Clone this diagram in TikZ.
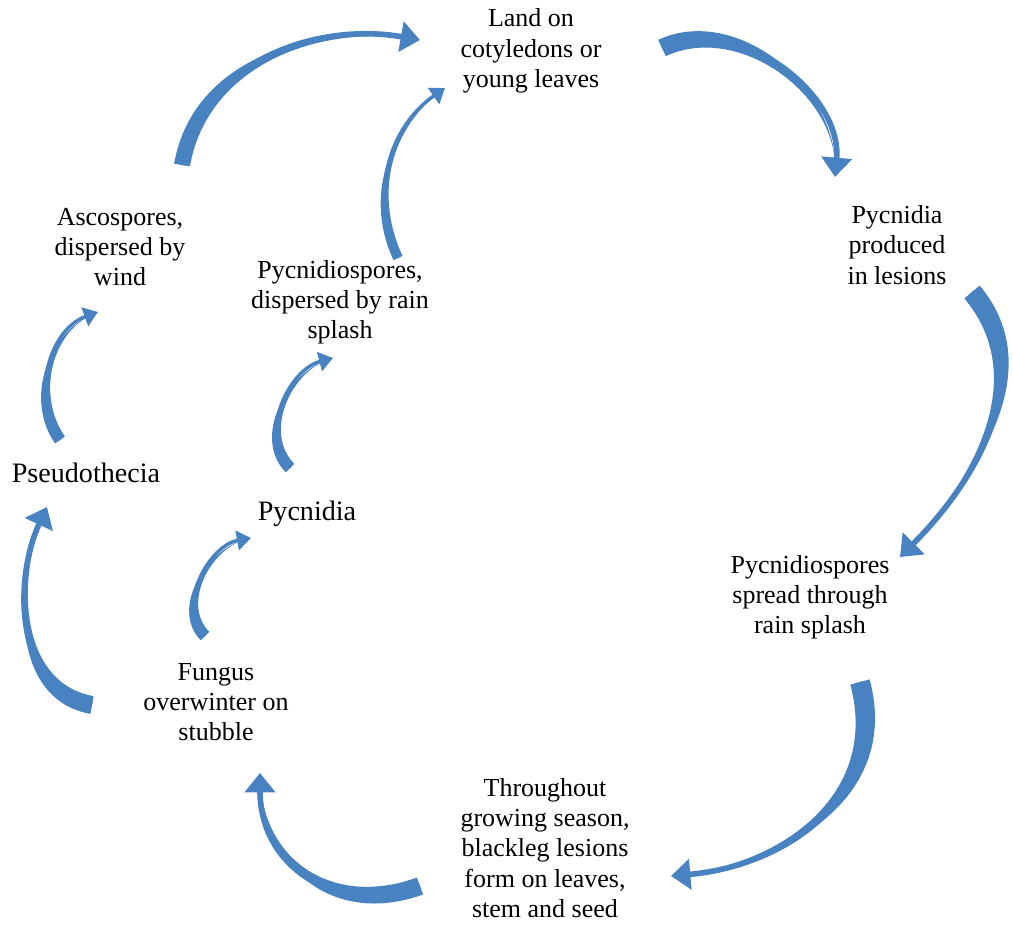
\documentclass[tikz,border=0pt]{standalone}
\usepackage{fontspec}
\setmainfont{Liberation Serif}
\usetikzlibrary{arrows.meta}
\definecolor{arrowblue}{RGB}{72,130,192}
\newcommand{\stagefont}{\fontsize{14.8}{17.2}\selectfont}
\newcommand{\bigstagefont}{\fontsize{16}{19}\selectfont}
% tapered bent arrow: tail, out, in, tip, half width of tail, style, looseness
\newcommand{\sweep}[7]{
  \fill[arrowblue] ([shift={(#2+90:#5)}]#1) to[out=#2,in=#3,looseness=#7] (#4)
    to[out=#3,in=#2,looseness=#7] ([shift={(#2-90:#5)}]#1) -- cycle;
  \draw[#6] (#1) to[out=#2,in=#3,looseness=#7] (#4);
}

\begin{document}
\begin{tikzpicture}[
    x=0.02cm, y=0.02cm,
    stagetext/.style={align=center, inner sep=0pt, font=\stagefont},
    thickflow/.style={draw=arrowblue, line width=3.2pt, -{Triangle[length=11pt,width=17pt]}},
    thinflow/.style={draw=arrowblue, line width=2pt, -{Triangle[length=8pt,width=11pt]}}
]
\useasboundingbox (0,0) rectangle (1013,924);
\node[stagetext] (land) at (531,873) {Land on\\cotyledons or\\young leaves};
\node[stagetext] (lesion) at (897,679) {Pycnidia\\produced\\in lesions};
\node[stagetext] (splash) at (810,327) {Pycnidiospores\\spread through\\rain splash};
\node[stagetext] (season) at (545,76) {Throughout\\growing season,\\blackleg lesions\\form on leaves,\\stem and seed};
\node[stagetext] (stubble) at (216,222) {Fungus\\overwinter on\\stubble};
\node[stagetext, font=\bigstagefont] (pseudo) at (86,451) {Pseudothecia};
\node[stagetext, font=\bigstagefont] (pycnidia) at (307,410) {Pycnidia};
\node[stagetext] (rainsplash) at (340,622) {Pycnidiospores,\\dispersed by rain\\splash};
\node[stagetext] (asco) at (120,677) {Ascospores,\\dispersed by\\wind};

% arrow ends
\coordinate (asco-out) at (182,759);
\coordinate (land-in1) at (420,884);
\coordinate (rainsplash-out) at (398,666);
\coordinate (land-in2) at (445,836);
\coordinate (land-out) at (662,876);
\coordinate (lesion-in) at (835,747);
\coordinate (lesion-out) at (972,632);
\coordinate (splash-in) at (900,367);
\coordinate (splash-out) at (860,242);
\coordinate (season-in) at (671,48);
\coordinate (season-out) at (420,38);
\coordinate (stubble-in) at (260,151);
\coordinate (stubble-out1) at (92,219);
\coordinate (pseudo-in) at (47,417);
\coordinate (pseudo-out) at (60,484);
\coordinate (asco-in) at (98,612);
\coordinate (stubble-out2) at (205,288);
\coordinate (pycnidia-in) at (251,386);
\coordinate (pycnidia-out) at (290,456);
\coordinate (rainsplash-in) at (333,566);

\sweep{asco-out}{80}{170}{land-in1}{8}{thickflow}{1}
\sweep{rainsplash-out}{115}{215}{land-in2}{5}{thinflow}{1}
\sweep{land-out}{25}{85}{lesion-in}{9}{thickflow}{1}
\sweep{lesion-out}{-50}{45}{splash-in}{10}{thickflow}{1}
\sweep{splash-out}{-75}{5}{season-in}{10}{thickflow}{1.1}
\sweep{season-out}{200}{270}{stubble-in}{9}{thickflow}{1.2}
\sweep{stubble-out1}{170}{245}{pseudo-in}{9}{thickflow}{1}
\sweep{pseudo-out}{125}{200}{asco-in}{6}{thinflow}{1}
\sweep{stubble-out2}{135}{190}{pycnidia-in}{6}{thinflow}{1}
\sweep{pycnidia-out}{135}{195}{rainsplash-in}{6}{thinflow}{1}
\end{tikzpicture}
\end{document}
